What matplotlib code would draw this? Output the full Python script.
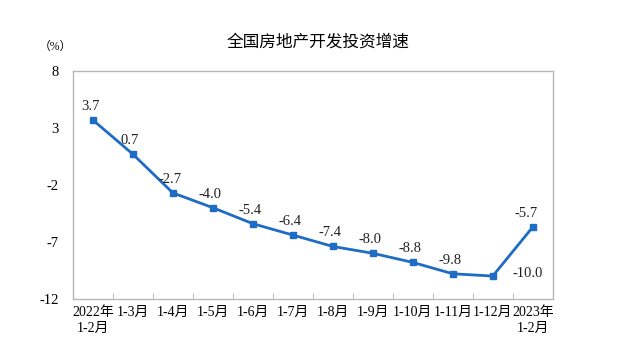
import matplotlib.pyplot as plt

plt.rcParams['font.family'] = ['Liberation Serif', 'Noto Sans CJK SC']
plt.rcParams['axes.unicode_minus'] = False

# data
categories = ["2022年\n1-2月", "1-3月", "1-4月", "1-5月", "1-6月", "1-7月", "1-8月",
              "1-9月", "1-10月", "1-11月", "1-12月", "2023年\n1-2月"]
growth = [3.7, 0.7, -2.7, -4.0, -5.4, -6.4, -7.4, -8.0, -8.8, -9.8, -10.0, -5.7]
y_ticks = [8, 3, -2, -7, -12]

# label offsets in points (dx, dy)
offsets = [(-2, 5)] * 10 + [(25, -3), (-5, 5)]

fig = plt.figure(figsize=(6.39, 3.64), dpi=100)
ax = fig.add_axes([0.114, 0.179, 0.751, 0.626])

x = list(range(len(growth)))
ax.plot(x, growth, '-s', color='#1f6cc4', lw=2, markersize=4.5)

for i, v in enumerate(growth):
    ax.annotate(f"{v:.1f}", (i, v), xytext=offsets[i], textcoords='offset points',
                ha='center', va='bottom', fontsize=10.5, color='#222222')

ax.set_ylim(-12, 8)
ax.set_yticks(y_ticks)
ax.set_xlim(-0.5, len(growth) - 0.5)
ax.set_xticks(x)
ax.set_xticklabels(categories, fontsize=10, linespacing=1.3)
ax.set_xticks([i + 0.5 for i in range(len(growth) - 1)], minor=True)
ax.tick_params(axis='x', which='major', length=0, pad=5)
ax.tick_params(axis='x', which='minor', direction='in', length=4, color='#b0b0b0')
ax.tick_params(axis='y', length=0, labelsize=10.5, pad=10)

for s in ax.spines.values():
    s.set_color('#b8b8b8')
    s.set_linewidth(1)

fig.text(0.498, 0.885, "全国房地产开发投资增速", ha='center', va='center',
         fontsize=12, fontweight='medium', family=['Noto Sans CJK SC'])
fig.text(0.086, 0.87, "（%）", ha='center', va='center', fontsize=8.5)

fig.savefig("out.png", dpi=100)
